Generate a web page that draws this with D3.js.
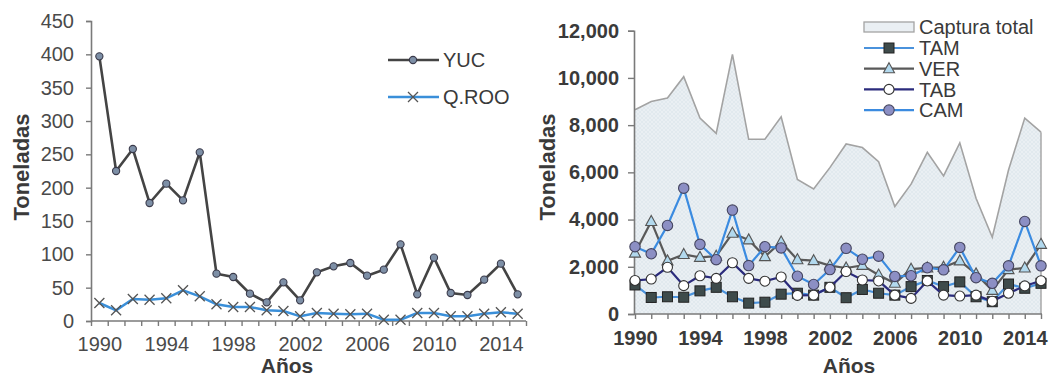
<!DOCTYPE html>
<html>
<head>
<meta charset="utf-8">
<script src="https://cdn.jsdelivr.net/npm/d3@7"></script>
<style>
  html, body { margin: 0; padding: 0; background: #fff; }
  svg { display: block; font-family: "Liberation Sans", Arial, sans-serif; }
</style>
</head>
<body>
<svg id="chart" width="1049" height="379"></svg>
<script>
// Years shared by both panels
const years = d3.range(1990, 2016);
const yearLabels = [1990, 1994, 1998, 2002, 2006, 2010, 2014];

// Left panel: Yucatán peninsula (toneladas)
const yuc = [397, 225, 258, 177, 206, 181, 253, 71, 66, 41, 28, 58, 31, 73, 82, 87, 68, 77, 115, 40, 95, 42, 39, 62, 86, 40];
const qroo = [27, 16, 33, 32, 34, 46, 37, 25, 21, 21, 16, 15, 7, 12, 11, 10, 11, 2, 2, 12, 12, 7, 7, 11, 13, 11];
const leftTicks = [0, 50, 100, 150, 200, 250, 300, 350, 400, 450];

// Right panel: Gulf states and total catch (toneladas)
const total = [8650, 9000, 9150, 10050, 8300, 7650, 11000, 7400, 7400, 8350, 5700, 5300, 6200, 7200, 7050, 6450, 4550, 5500, 6850, 5850, 7250, 4900, 3250, 6100, 8300, 7700];
const tam = [1230, 700, 730, 710, 980, 1130, 730, 460, 500, 840, 880, 800, 1130, 690, 1040, 880, 800, 1160, 1420, 1160, 1360, 730, 520, 1270, 1090, 1300];
const ver = [2580, 3920, 2250, 2520, 2400, 2450, 3420, 3140, 2430, 3050, 2300, 2260, 2050, 1950, 2060, 1650, 1300, 1900, 1950, 1980, 2250, 1700, 1000, 1880, 1950, 2950];
const tab = [1420, 1480, 1980, 1200, 1620, 1510, 2170, 1510, 1390, 1570, 790, 800, 1130, 1800, 1440, 1400, 800, 660, 1400, 800, 760, 800, 540, 880, 1190, 1410];
const cam = [2850, 2550, 3750, 5330, 2950, 2300, 4400, 2050, 2850, 2800, 1600, 1250, 1880, 2780, 2320, 2450, 1590, 1620, 1960, 1870, 2820, 1540, 1300, 2040, 3920, 2040];
const rightTicks = [0, 2000, 4000, 6000, 8000, 10000, 12000];

const svg = d3.select("#chart");

// ---------- Left panel ----------
const L = { x0: 91, x1: 526, y0: 321, y1: 21 };
const xL = d3.scaleLinear().domain([1989.5, 2015.5]).range([L.x0, L.x1]);
const yL = d3.scaleLinear().domain([0, 450]).range([L.y0, L.y1]);

const gL = svg.append("g");

// y axis
const yAxisL = gL.append("g").attr("transform", `translate(${L.x0},0)`)
  .call(d3.axisLeft(yL).tickValues(leftTicks).tickSize(5).tickPadding(12).tickFormat(d3.format("d")));
yAxisL.select(".domain").attr("stroke", "#7a7a7a").attr("stroke-width", 1.6);
yAxisL.selectAll(".tick line").attr("stroke", "#7a7a7a").attr("stroke-width", 1.4);
yAxisL.selectAll("text").attr("font-size", 20).attr("fill", "#4a4a4a");

// x axis: tick marks between categories, labels centred on categories
const xAxisL = gL.append("g").attr("transform", `translate(0,${L.y0})`)
  .call(d3.axisBottom(xL).tickValues(d3.range(1989.5, 2016, 1)).tickSize(5).tickFormat(""));
xAxisL.select(".domain").attr("stroke", "#7a7a7a").attr("stroke-width", 1.6).attr("d", `M${L.x0},0H${L.x1}`);
xAxisL.selectAll(".tick line").attr("stroke", "#7a7a7a").attr("stroke-width", 1.4);

const xLabL = gL.append("g").attr("transform", `translate(0,${L.y0})`)
  .call(d3.axisBottom(xL).tickValues(yearLabels).tickSize(0).tickPadding(16).tickFormat(d3.format("d")));
xLabL.select(".domain").remove();
xLabL.selectAll("text").attr("font-size", 20).attr("fill", "#4a4a4a");

// lines
const lineL = d3.line().x((d, i) => xL(years[i])).y(d => yL(d));

gL.append("path").datum(qroo).attr("d", lineL)
  .attr("fill", "none").attr("stroke", "#3a8fd9").attr("stroke-width", 2.5);
function xMark(sel, cx, cy, s) {
  sel.append("path")
    .attr("d", `M${cx - s},${cy - s}L${cx + s},${cy + s}M${cx - s},${cy + s}L${cx + s},${cy - s}`)
    .attr("stroke", "#555").attr("stroke-width", 1.3).attr("fill", "none");
}
const qG = gL.append("g");
qroo.forEach((d, i) => xMark(qG, xL(years[i]), yL(d), 5));

gL.append("path").datum(yuc).attr("d", lineL)
  .attr("fill", "none").attr("stroke", "#444").attr("stroke-width", 2.6);
gL.append("g").selectAll("circle").data(yuc).join("circle")
  .attr("cx", (d, i) => xL(years[i])).attr("cy", d => yL(d)).attr("r", 3.6)
  .attr("fill", "#7d8fa6").attr("stroke", "#3a3a4a").attr("stroke-width", 1.1);

// legend
const legL = gL.append("g");
legL.append("line").attr("x1", 388).attr("x2", 439).attr("y1", 60).attr("y2", 60)
  .attr("stroke", "#444").attr("stroke-width", 2.6);
legL.append("circle").attr("cx", 413).attr("cy", 60).attr("r", 3.6)
  .attr("fill", "#7d8fa6").attr("stroke", "#3a3a4a").attr("stroke-width", 1.1);
legL.append("text").attr("x", 443).attr("y", 60).attr("dy", "0.36em")
  .attr("font-size", 20).attr("fill", "#3a3a3a").text("YUC");
legL.append("line").attr("x1", 388).attr("x2", 439).attr("y1", 97).attr("y2", 97)
  .attr("stroke", "#3a8fd9").attr("stroke-width", 2.5);
xMark(legL, 413, 97, 5);
legL.append("text").attr("x", 443).attr("y", 97).attr("dy", "0.36em")
  .attr("font-size", 20).attr("fill", "#3a3a3a").text("Q.ROO");

// axis titles
gL.append("text").attr("transform", "translate(21,167) rotate(-90)")
  .attr("text-anchor", "middle").attr("dy", "0.36em")
  .attr("font-size", 22).attr("font-weight", "bold").attr("fill", "#3a3a3a").text("Toneladas");
gL.append("text").attr("x", 287).attr("y", 373).attr("text-anchor", "middle")
  .attr("font-size", 21).attr("font-weight", "bold").attr("fill", "#3a3a3a").text("Años");

// ---------- Right panel ----------
const R = { x0: 635, x1: 1041, y0: 314, y1: 30.7, ax: 634 };
const xR = d3.scaleLinear().domain([1990, 2015]).range([R.x0, R.x1]);
const yR = d3.scaleLinear().domain([0, 12000]).range([R.y0, R.y1]);

const gR = svg.append("g");

// texture for the total-catch area
const defs = svg.append("defs");
const pat = defs.append("pattern").attr("id", "hatch").attr("patternUnits", "userSpaceOnUse")
  .attr("width", 4).attr("height", 4);
pat.append("rect").attr("width", 4).attr("height", 4).attr("fill", "#eaeff3");
pat.append("path").attr("d", "M0,4L4,0M0,0L4,4").attr("stroke", "#dde6ed").attr("stroke-width", 0.7);

const areaR = d3.area().x((d, i) => xR(years[i])).y0(yR(0)).y1(d => yR(d));
gR.append("path").datum(total).attr("d", areaR).attr("fill", "url(#hatch)");
gR.append("path").datum(total)
  .attr("d", d3.line().x((d, i) => xR(years[i])).y(d => yR(d)))
  .attr("fill", "none").attr("stroke", "#a3a3a3").attr("stroke-width", 1.6);
gR.append("line").attr("x1", xR(2015)).attr("x2", xR(2015)).attr("y1", yR(total[25])).attr("y2", yR(0))
  .attr("stroke", "#a3a3a3").attr("stroke-width", 1.4);

// axes
const yAxisR = gR.append("g").attr("transform", `translate(${R.ax},0)`)
  .call(d3.axisLeft(yR).tickValues(rightTicks).tickSize(6).tickPadding(9).tickFormat(d3.format(",")));
yAxisR.select(".domain").attr("stroke", "#7a7a7a").attr("stroke-width", 1.6);
yAxisR.selectAll(".tick line").attr("stroke", "#7a7a7a").attr("stroke-width", 1.4);
yAxisR.selectAll("text").attr("font-size", 20).attr("font-weight", "bold").attr("fill", "#3a3a3a");

const xAxisR = gR.append("g").attr("transform", `translate(0,${R.y0})`)
  .call(d3.axisBottom(xR).tickValues(years).tickSize(5).tickFormat(""));
xAxisR.select(".domain").attr("stroke", "#7a7a7a").attr("stroke-width", 1.6).attr("d", `M${R.ax},0H${R.x1 + 1}`);
xAxisR.selectAll(".tick line").attr("stroke", "#7a7a7a").attr("stroke-width", 1.4);

const xLabR = gR.append("g").attr("transform", `translate(0,${R.y0})`)
  .call(d3.axisBottom(xR).tickValues(yearLabels).tickSize(0).tickPadding(17).tickFormat(d3.format("d")));
xLabR.select(".domain").remove();
xLabR.selectAll("text").attr("font-size", 20).attr("font-weight", "bold").attr("fill", "#3a3a3a");

const lineR = d3.line().x((d, i) => xR(years[i])).y(d => yR(d));

// marker painters
const markers = {
  square: (sel, cx, cy) => sel.append("rect").attr("x", cx - 5).attr("y", cy - 5).attr("width", 10).attr("height", 10)
    .attr("fill", "#3e4b4b").attr("stroke", "#222").attr("stroke-width", 1),
  triangle: (sel, cx, cy) => sel.append("path").attr("d", `M${cx},${cy - 6}L${cx + 5.5},${cy + 4}L${cx - 5.5},${cy + 4}Z`)
    .attr("fill", "#b2d9ee").attr("stroke", "#555").attr("stroke-width", 1.1),
  open: (sel, cx, cy) => sel.append("circle").attr("cx", cx).attr("cy", cy).attr("r", 5)
    .attr("fill", "#fff").attr("stroke", "#333").attr("stroke-width", 1.1),
  filled: (sel, cx, cy) => sel.append("circle").attr("cx", cx).attr("cy", cy).attr("r", 5.2)
    .attr("fill", "#8c8fc4").attr("stroke", "#454560").attr("stroke-width", 1.1)
};

const seriesR = [
  { name: "TAM", data: tam, color: "#4a92dc", marker: "square" },
  { name: "VER", data: ver, color: "#595959", marker: "triangle" },
  { name: "TAB", data: tab, color: "#2b2b7c", marker: "open" },
  { name: "CAM", data: cam, color: "#3b8be0", marker: "filled" }
];

seriesR.forEach(s => {
  const g = gR.append("g");
  g.append("path").datum(s.data).attr("d", lineR)
    .attr("fill", "none").attr("stroke", s.color).attr("stroke-width", 2.2);
  s.data.forEach((d, i) => markers[s.marker](g, xR(years[i]), yR(d)));
});

// legend
const legR = gR.append("g");
legR.append("rect").attr("x", 864).attr("y", 22).attr("width", 50).attr("height", 10)
  .attr("fill", "#eaeff3").attr("stroke", "#a3a3a3").attr("stroke-width", 1.3);
legR.append("text").attr("x", 919).attr("y", 27).attr("dy", "0.36em")
  .attr("font-size", 20).attr("fill", "#3a3a3a").text("Captura total");
seriesR.forEach((s, i) => {
  const cy = 48 + i * 20.7;
  legR.append("line").attr("x1", 864).attr("x2", 914).attr("y1", cy).attr("y2", cy)
    .attr("stroke", s.color).attr("stroke-width", 2.2);
  markers[s.marker](legR, 889, cy);
  legR.append("text").attr("x", 919).attr("y", cy).attr("dy", "0.36em")
    .attr("font-size", 20).attr("fill", "#3a3a3a").text(s.name);
});

// axis titles
gR.append("text").attr("transform", "translate(547,167) rotate(-90)")
  .attr("text-anchor", "middle").attr("dy", "0.36em")
  .attr("font-size", 22).attr("font-weight", "bold").attr("fill", "#3a3a3a").text("Toneladas");
gR.append("text").attr("x", 849).attr("y", 373).attr("text-anchor", "middle")
  .attr("font-size", 21).attr("font-weight", "bold").attr("fill", "#3a3a3a").text("Años");
</script>
</body>
</html>
